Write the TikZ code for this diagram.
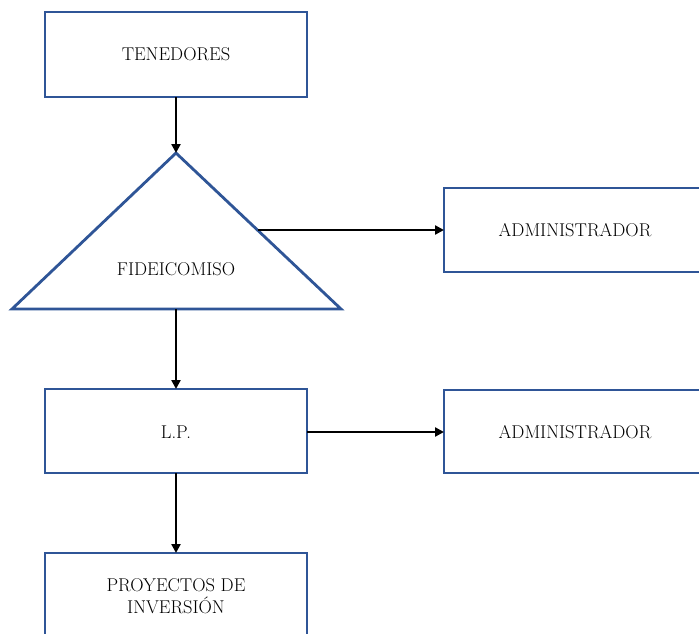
\documentclass[tikz,border=0pt]{standalone}
\usetikzlibrary{arrows.meta}
\definecolor{boxblue}{RGB}{47,85,151}
\begin{document}
\begin{tikzpicture}[x=1pt,y=-1pt,
  boxstyle/.style={draw=boxblue,line width=2.8pt,fill=white,inner sep=0pt},
  lbl/.style={font=\fontsize{18.5}{22}\selectfont,align=center,text=black},
  conn/.style={line width=2.6pt,-{Triangle[length=9pt,width=9pt]}}]
\useasboundingbox (0,0) rectangle (699,634);
\clip (0,0) rectangle (699,634);
\fill[white] (0,0) rectangle (699,634);
% boxes
\draw[boxstyle] (45,12) rectangle (307,97);
\node[lbl] (ten) at (176,54) {TENEDORES};
\coordinate (tenB) at (176,97);
% triangle
\coordinate (triTop) at (176,153);
\coordinate (triL) at (12,309);
\coordinate (triR) at (341,309);
\coordinate (triBot) at (176,309);
\coordinate (triSide) at (257.5,230);
\draw[boxstyle,line join=miter] (triTop) -- (triR) -- (triL) -- cycle;
\node[lbl] (fid) at (176,269) {FIDEICOMISO};
% admin 1
\draw[boxstyle] (444,188) rectangle (720,272);
\node[lbl] (adm1) at (575,230) {ADMINISTRADOR};
\coordinate (adm1L) at (444,230);
% LP
\draw[boxstyle] (45,389) rectangle (307,473);
\node[lbl] (lp) at (176,432) {L.P.};
\coordinate (lpT) at (176,389);
\coordinate (lpR) at (307,432);
\coordinate (lpB) at (176,473);
% admin 2
\draw[boxstyle] (444,390) rectangle (720,473);
\node[lbl] (adm2) at (575,432) {ADMINISTRADOR};
\coordinate (adm2L) at (444,432);
% proyectos
\draw[boxstyle] (45,553) rectangle (307,650);
\node[lbl] (proy) at (176,596) {PROYECTOS DE\\INVERSIÓN};
\coordinate (proyT) at (176,553);
% connectors
\draw[conn] (tenB) -- (triTop);
\draw[conn] (triSide) -- (adm1L);
\draw[conn] (triBot) -- (lpT);
\draw[conn] (lpR) -- (adm2L);
\draw[conn] (lpB) -- (proyT);
\end{tikzpicture}
\end{document}
